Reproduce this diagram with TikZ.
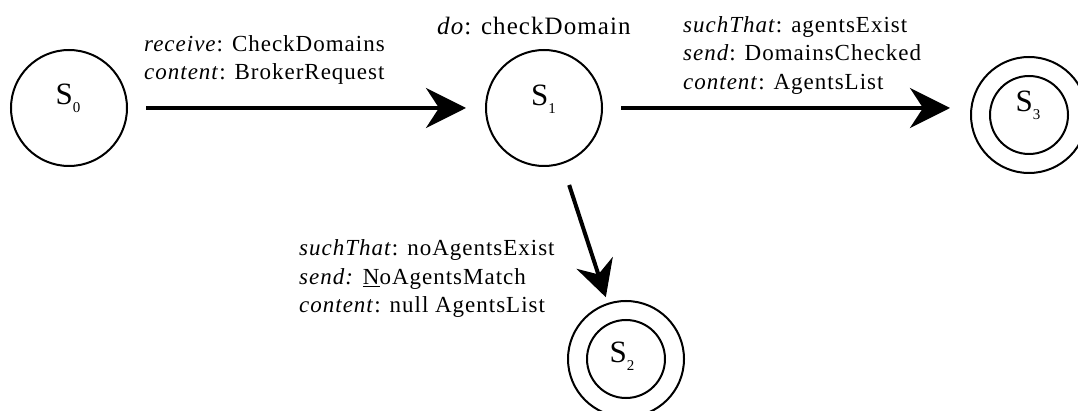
\documentclass[tikz,border=0pt]{standalone}
\usepackage{fontspec}
\setmainfont{Liberation Serif}
\newfontfamily\lblfont[LetterSpace=4.3]{Liberation Serif}
\usetikzlibrary{arrows.meta,calc}
\begin{document}
\begin{tikzpicture}[x=1pt,y=-1pt,
  state/.style={circle,draw,line width=2pt,minimum size=116pt,inner sep=0pt},
  inner/.style={circle,draw,line width=2pt,minimum size=78pt,inner sep=0pt},
  trans/.style={line width=4pt,-{Stealth[length=40pt,width=40pt,inset=13pt]}},
  lbl/.style={font=\lblfont\fontsize{23}{28.5}\selectfont,anchor=base west,inner sep=0pt},
  slabel/.style={font=\fontsize{31}{31}\selectfont,inner sep=0pt}
]
\useasboundingbox (0,0) rectangle (1078,411);
\newcommand{\stname}[1]{S\raisebox{-8pt}{\fontsize{15}{15}\selectfont #1}}
\newcommand{\lines}[1]{\begin{tabular}[t]{@{}l@{}}#1\end{tabular}}
% states
\node[state] (s0) at (69,108) {};
\node[state] (s1) at (544,108) {};
\node[state] (s3) at (1029,115) {};
\node[inner] (s3i) at (s3.center) {};
\node[state] (s2) at (626,359) {};
\node[inner] (s2i) at (s2.center) {};
% state names
\node[slabel,anchor=base] (n0) at (68,105) {\stname{0}};
\node[slabel,anchor=base] (n1) at (543.5,106) {\stname{1}};
\node[slabel,anchor=base] (n3) at (1028,112) {\stname{3}};
\node[slabel,anchor=base] (n2) at (622,362) {\stname{2}};
% transitions
\draw[trans,shorten <=18pt,shorten >=19pt] (s0) -- (s1);
\draw[trans,shorten <=18pt,shorten >=20pt] (s1.east) -- (s1.east -| s3.west);
\draw[trans,-{Stealth[length=36pt,width=38pt,inset=12pt]},shorten <=22pt,shorten >=6pt] (s1) -- (s2);
% labels
\node[lbl,font=\lblfont\fontsize{25}{28.5}\selectfont] (ldo) at (437,35) {\textit{do}: checkDomain};
\node[lbl] (l01) at (144,51.5) {\lines{\textit{receive}: CheckDomains\\\textit{content}: BrokerRequest}};
\node[lbl] (l13) at (683,32.5) {\lines{\textit{suchThat}: agentsExist\\\textit{send}: DomainsChecked\\\textit{content}: AgentsList}};
\node[lbl] (l12) at (299,256) {\lines{\textit{suchThat}: noAgentsExist\\\textit{send:} \underline{N}oAgentsMatch\\\textit{content}: null AgentsList}};
\end{tikzpicture}
\end{document}
